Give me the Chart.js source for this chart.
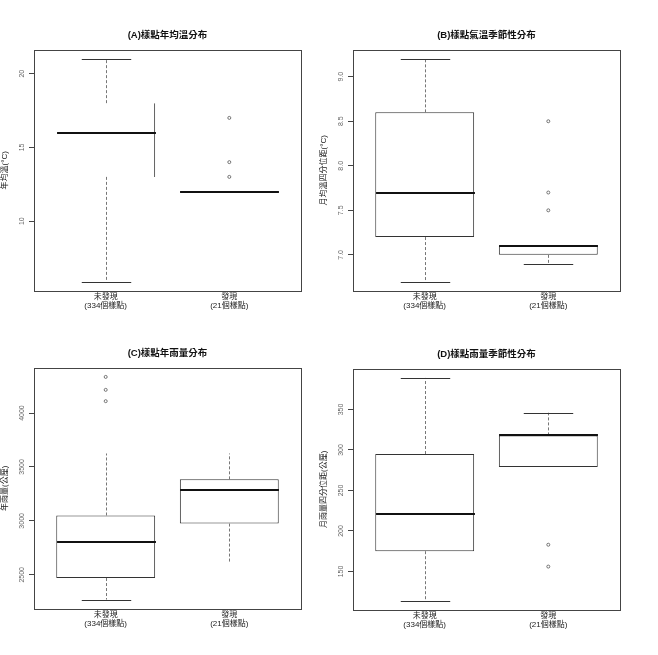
<!DOCTYPE html>
<html>
<head>
<meta charset="utf-8">
<script src="https://cdn.jsdelivr.net/npm/chart.js@4.4.0/dist/chart.umd.min.js"></script>
<style>
  body { margin: 0; background: #fff; width: 658px; height: 655px; position: relative; overflow: hidden; }
  canvas { position: absolute; }
</style>
</head>
<body>
<canvas id="chartA" width="335" height="305" style="left:0px;top:20px"></canvas>
<canvas id="chartB" width="335" height="305" style="left:319px;top:20px"></canvas>
<canvas id="chartC" width="335" height="305" style="left:0px;top:338px"></canvas>
<canvas id="chartD" width="335" height="305" style="left:319px;top:339px"></canvas>
<script>
const groups = ['未發現', '發現'];
const groupSizes = ['(334個樣點)', '(21個樣點)'];

// (A) 年均溫
const lowA = [5.9, 12];
const q1A = [13, 12];
const medA = [16, 12];
const q3A = [18, 12];
const highA = [21, 12];
const outA = [[], [17, 14, 13]];
const ticksA = [10, 15, 20];

// (B) 氣溫季節性
const lowB = [6.7, 6.9];
const q1B = [7.2, 7.0];
const medB = [7.7, 7.1];
const q3B = [8.6, 7.1];
const highB = [9.2, 7.1];
const outB = [[], [8.5, 7.7, 7.5]];
const ticksB = [7.0, 7.5, 8.0, 8.5, 9.0];

// (C) 年雨量
const lowC = [2270, 2620];
const q1C = [2470, 2975];
const medC = [2805, 3290];
const q3C = [3050, 3385];
const highC = [3625, 3625];
const outC = [[4110, 4215, 4335], []];
const ticksC = [2500, 3000, 3500, 4000];

// (D) 雨量季節性
const lowD = [114, 279];
const q1D = [175, 279];
const medD = [221, 318];
const q3D = [295, 318];
const highD = [389, 346];
const outD = [[], [183, 156]];
const ticksD = [150, 200, 250, 300, 350];

const FONT = "'Liberation Sans', 'Noto Sans CJK TC', sans-serif";
const BOX_W = 0.8;

// whiskers, caps, medians, frame and rotated y labels, all placed with the chart scales
const boxParts = {
  id: 'boxParts',
  afterDatasetsDraw(chart, args, p) {
    const { ctx, chartArea: a, scales: { x, y } } = chart;
    const line = (x1, y1, x2, y2) => { ctx.beginPath(); ctx.moveTo(x1, y1); ctx.lineTo(x2, y2); ctx.stroke(); };
    ctx.save();
    p.low.forEach((lo, i) => {
      const cx = Math.round(x.getPixelForValue(i + 1)) + 0.5;
      const half = x.getPixelForValue(i + 1 + BOX_W / 2) - x.getPixelForValue(i + 1);
      const yHi = y.getPixelForValue(p.high[i]);
      const yQ3 = y.getPixelForValue(p.q3[i]);
      const yQ1 = y.getPixelForValue(p.q1[i]);
      const yLo = y.getPixelForValue(lo);
      ctx.lineWidth = 1;
      ctx.strokeStyle = '#777';
      ctx.setLineDash([3, 2]);
      if (p.high[i] > p.q3[i]) line(cx, yQ3, cx, yHi);
      if (lo < p.q1[i]) line(cx, yQ1, cx, yLo);
      ctx.setLineDash([]);
      ctx.strokeStyle = '#333';
      if (p.caps[i][0] && p.high[i] > p.q3[i]) line(cx - half / 2, Math.round(yHi) + 0.5, cx + half / 2, Math.round(yHi) + 0.5);
      if (p.caps[i][1] && lo < p.q1[i]) line(cx - half / 2, Math.round(yLo) + 0.5, cx + half / 2, Math.round(yLo) + 0.5);
      ctx.lineWidth = 2;
      ctx.strokeStyle = '#111';
      const ym = Math.round(y.getPixelForValue(p.med[i]));
      line(cx - half, ym, cx + half, ym);
    });
    ctx.lineWidth = 1;
    ctx.strokeStyle = '#444';
    ctx.strokeRect(Math.round(a.left) + 0.5, Math.round(a.top) + 0.5, Math.round(a.right - a.left), Math.round(a.bottom - a.top));
    ctx.fillStyle = '#666';
    ctx.font = '7px ' + FONT;
    ctx.textAlign = 'center';
    ctx.textBaseline = 'middle';
    y.ticks.forEach(t => {
      ctx.save();
      ctx.translate(a.left - 12, y.getPixelForValue(t.value));
      ctx.rotate(-Math.PI / 2);
      ctx.fillText(t.value.toFixed(p.digits), 0, 0);
      ctx.restore();
    });
    ctx.restore();
  }
};

const panels = [
  { id: 'chartA', title: '(A)樣點年均溫分布', yTitle: '年均溫(°C)', low: lowA, q1: q1A, med: medA, q3: q3A, high: highA, out: outA, ticks: ticksA, digits: 0,
    edges: [{ top: 0, right: 1, bottom: 0, left: 0 }, 0], caps: [[true, true], [true, true]] },
  { id: 'chartB', title: '(B)樣點氣溫季節性分布', yTitle: '月均溫四分位距(°C)', low: lowB, q1: q1B, med: medB, q3: q3B, high: highB, out: outB, ticks: ticksB, digits: 1,
    edges: [1, 1], caps: [[true, true], [true, true]] },
  { id: 'chartC', title: '(C)樣點年雨量分布', yTitle: '年雨量(公厘)', low: lowC, q1: q1C, med: medC, q3: q3C, high: highC, out: outC, ticks: ticksC, digits: 0,
    edges: [1, 1], caps: [[false, true], [false, false]] },
  { id: 'chartD', title: '(D)樣點雨量季節性分布', yTitle: '月雨量四分位距(公厘)', low: lowD, q1: q1D, med: medD, q3: q3D, high: highD, out: outD, ticks: ticksD, digits: 0,
    edges: [1, 1], caps: [[true, true], [true, true]] }
];

panels.forEach(p => {
  const all = p.low.concat(p.high, ...p.out);
  const lo = Math.min(...all), hi = Math.max(...all), pad = (hi - lo) * 0.04;
  new Chart(document.getElementById(p.id), {
    type: 'bar',
    data: {
      datasets: [
        {
          type: 'bar',
          data: groups.map((g, i) => ({ x: i + 1, y: [p.q1[i], p.q3[i]] })),
          backgroundColor: '#fff',
          borderColor: '#333',
          borderWidth: p.edges,
          borderSkipped: false,
          categoryPercentage: 1,
          barPercentage: BOX_W
        },
        {
          type: 'scatter',
          data: p.out.flatMap((vals, i) => vals.map(v => ({ x: i + 1, y: v }))),
          pointStyle: 'circle',
          pointRadius: 1.5,
          borderWidth: 0.8,
          borderColor: '#555',
          backgroundColor: 'rgba(0,0,0,0)'
        }
      ]
    },
    options: {
      responsive: false,
      animation: false,
      devicePixelRatio: 1,
      layout: { padding: 0 },
      events: [],
      plugins: {
        legend: { display: false },
        tooltip: { enabled: false },
        title: {
          display: true, text: p.title, color: '#111',
          font: { family: FONT, size: 9.5, weight: 'bold', lineHeight: 1.2 },
          padding: { top: 9.3, bottom: 9.3 }
        },
        boxParts: p
      },
      scales: {
        x: {
          type: 'linear', min: 0.42, max: 2.58, offset: false,
          afterBuildTicks: s => { s.ticks = groups.map((g, i) => ({ value: i + 1 })); },
          afterFit: s => { s.height = 34.5; },
          grid: { display: false, offset: false, drawTicks: false, tickLength: 0 },
          border: { display: false },
          ticks: {
            autoSkip: false, maxRotation: 0, padding: 2.2, color: '#222',
            font: { family: FONT, size: 8, lineHeight: 1.12 },
            callback: v => [groups[v - 1], groupSizes[v - 1]]
          }
        },
        y: {
          type: 'linear', min: lo - pad, max: hi + pad,
          afterBuildTicks: s => { s.ticks = p.ticks.map(v => ({ value: v })); },
          afterFit: s => { s.width = 34; },
          grid: { display: true, drawOnChartArea: false, drawTicks: true, tickLength: 5, color: '#444' },
          border: { display: false },
          ticks: { display: false },
          title: {
            display: true, text: p.yTitle, color: '#222',
            font: { family: FONT, size: 8, lineHeight: 1 },
            padding: { top: 1, bottom: 0 }
          }
        },
        y2: {
          position: 'right', display: true,
          afterFit: s => { s.width = 34; },
          grid: { display: false },
          border: { display: false },
          ticks: { display: false }
        }
      }
    },
    plugins: [boxParts]
  });
});
</script>
</body>
</html>
